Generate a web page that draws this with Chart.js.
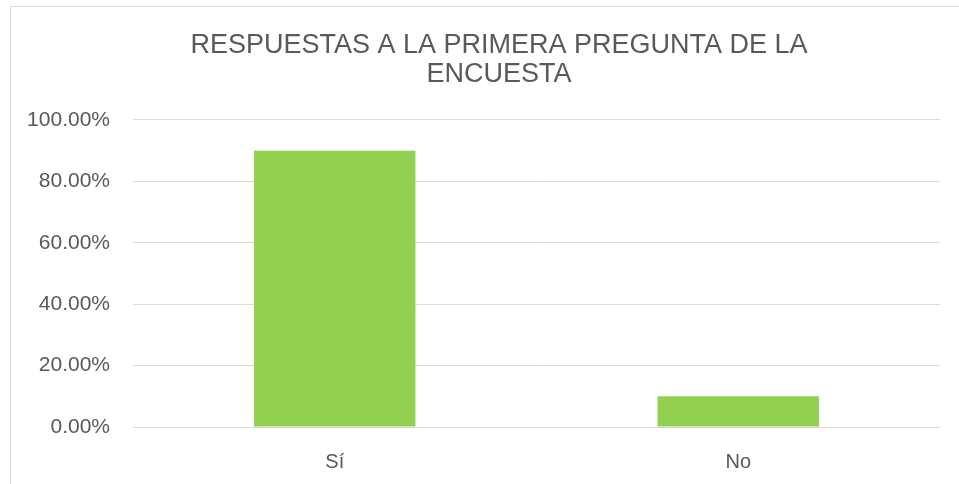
<!DOCTYPE html>
<html>
<head>
<meta charset="utf-8">
<script src="https://cdn.jsdelivr.net/npm/chart.js@4.4.0/dist/chart.umd.min.js"></script>
<style>
    html, body { margin: 0; padding: 0; background: #fff; }
    #frame {
        position: absolute; left: 10px; top: 6px; width: 1000px; height: 520px;
        border-left: 1px solid #d9d9d9; border-top: 1px solid #d9d9d9;
    }
    #wrap { position: absolute; left: 0; top: 0; width: 959px; height: 484px; }
</style>
</head>
<body>
<div id="frame"></div>
<div id="wrap"><canvas id="surveyChart"></canvas></div>
<script>
// Chart data
const categories = ['Sí', 'No'];
const responseShare = [0.90, 0.10];
const chartTitle = ['RESPUESTAS A LA PRIMERA PREGUNTA DE LA', 'ENCUESTA'];

const textColor = '#595959';
const fontFamily = '"Liberation Sans", Arial, sans-serif';

const ctx = document.getElementById('surveyChart').getContext('2d');

// Title in the original sits a bit right of the canvas centre
const shiftTitle = {
    id: 'shiftTitle',
    afterLayout: function(chart) {
        if (chart.titleBlock) {
            chart.titleBlock.left += 58;
        }
    }
};

new Chart(ctx, {
    type: 'bar',
    data: {
        labels: categories,
        datasets: [{
            label: 'Respuestas',
            data: responseShare,
            backgroundColor: '#92D050',
            borderWidth: 0,
            categoryPercentage: 1.0,
            barPercentage: 0.4
        }]
    },
    options: {
        responsive: true,
        maintainAspectRatio: false,
        animation: false,
        layout: {
            padding: { left: 0, right: 19, top: 0, bottom: 0 }
        },
        plugins: {
            legend: { display: false },
            tooltip: { enabled: false },
            title: {
                display: true,
                text: chartTitle,
                color: textColor,
                font: { family: fontFamily, size: 27, weight: 'normal', lineHeight: 1.074 },
                padding: { top: 31, bottom: 31 }
            }
        },
        scales: {
            y: {
                min: 0,
                max: 1,
                afterFit: function(scale) { scale.width = 133; },
                border: { display: false },
                grid: { color: '#d9d9d9', lineWidth: 1, drawTicks: false },
                ticks: {
                    stepSize: 0.2,
                    padding: 23,
                    color: textColor,
                    font: { family: fontFamily, size: 21 },
                    callback: function(v) { return (v * 100).toFixed(2) + '%'; }
                }
            },
            x: {
                afterFit: function(scale) { scale.height = 57; },
                border: { display: false },
                grid: { display: false },
                ticks: {
                    padding: 15,
                    color: textColor,
                    font: { family: fontFamily, size: 20 }
                }
            }
        }
    },
    plugins: [shiftTitle]
});
</script>
</body>
</html>
